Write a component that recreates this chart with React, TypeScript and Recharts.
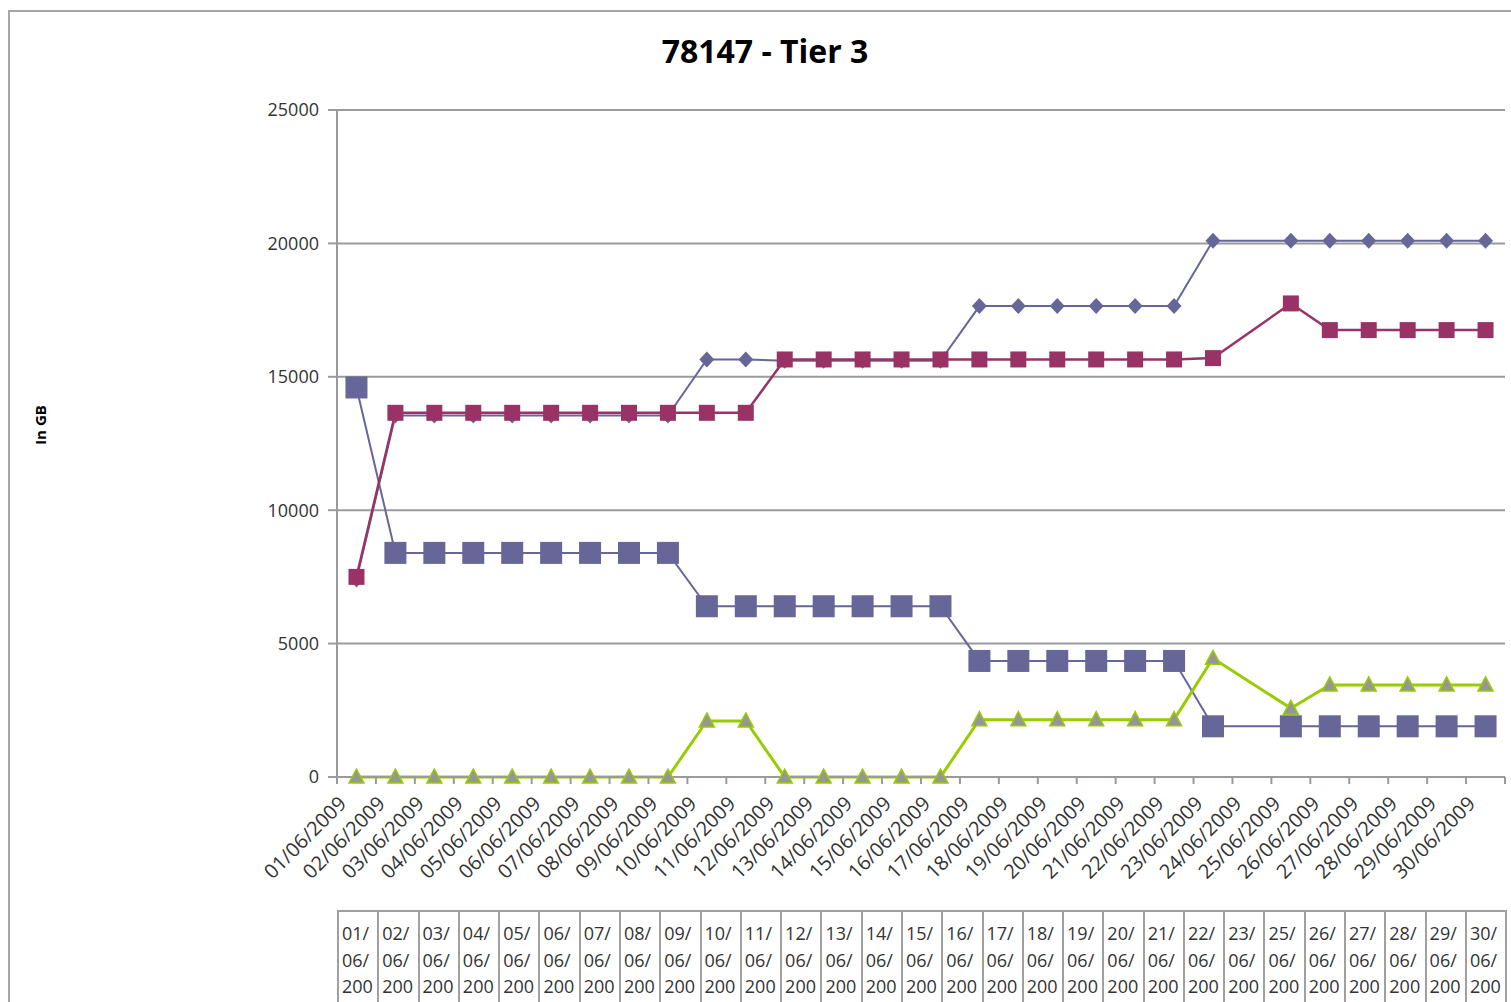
import React from "react";
import { LineChart, Line, XAxis, YAxis, CartesianGrid } from "recharts";

const dates = [
  "01/06/2009", "02/06/2009", "03/06/2009", "04/06/2009", "05/06/2009",
  "06/06/2009", "07/06/2009", "08/06/2009", "09/06/2009", "10/06/2009",
  "11/06/2009", "12/06/2009", "13/06/2009", "14/06/2009", "15/06/2009",
  "16/06/2009", "17/06/2009", "18/06/2009", "19/06/2009", "20/06/2009",
  "21/06/2009", "22/06/2009", "23/06/2009", "24/06/2009", "25/06/2009",
  "26/06/2009", "27/06/2009", "28/06/2009", "29/06/2009", "30/06/2009",
];

// small diamonds (blue)
const allocated = [
  7400, 13550, 13550, 13550, 13550, 13550, 13550, 13550, 13550, 15650,
  15650, 15600, 15600, 15600, 15600, 15600, 17650, 17650, 17650, 17650,
  17650, 17650, 20100, null, 20100, 20100, 20100, 20100, 20100, 20100,
];

// squares (magenta)
const used = [
  7500, 13650, 13650, 13650, 13650, 13650, 13650, 13650, 13650, 13650,
  13650, 15650, 15650, 15650, 15650, 15650, 15650, 15650, 15650, 15650,
  15650, 15650, 15700, null, 17750, 16750, 16750, 16750, 16750, 16750,
];

// big squares (blue)
const free = [
  14600, 8400, 8400, 8400, 8400, 8400, 8400, 8400, 8400, 6400,
  6400, 6400, 6400, 6400, 6400, 6400, 4350, 4350, 4350, 4350,
  4350, 4350, 1900, null, 1900, 1900, 1900, 1900, 1900, 1900,
];

// triangles (green line)
const growth = [
  0, 0, 0, 0, 0, 0, 0, 0, 0, 2100,
  2100, 0, 0, 0, 0, 0, 2150, 2150, 2150, 2150,
  2150, 2150, 4450, null, 2575, 3450, 3450, 3450, 3450, 3450,
];

const yTicks = [0, 5000, 10000, 15000, 20000, 25000];

const BLUE = "#666699";
const MAGENTA = "#993366";
const GREEN = "#99CC00";
const TRI_FILL = "#969696";
const AXIS = "#9a9a9a";
const FONT = "'Open Sans', sans-serif";

const PLOT_LEFT = 337;
const PLOT_RIGHT = 1505;
const PLOT_TOP = 110;
const PLOT_BOTTOM = 777;
const BAND = (PLOT_RIGHT - PLOT_LEFT) / dates.length;

const data = dates.map((date, i) => ({
  date,
  allocated: allocated[i],
  used: used[i],
  free: free[i],
  growth: growth[i],
}));

const tableDates = dates.filter((_, i) => used[i] !== null);

function diamondDot(props: any) {
  const { cx, cy, index } = props;
  if (cx == null || cy == null || props.value == null) return <g key={index} />;
  return (
    <polygon
      key={index}
      points={`${cx},${cy - 8} ${cx + 7.5},${cy} ${cx},${cy + 8} ${cx - 7.5},${cy}`}
      fill={BLUE}
    />
  );
}

function squareDot(size: number, color: string) {
  return (props: any) => {
    const { cx, cy, index } = props;
    if (cx == null || cy == null || props.value == null) return <g key={index} />;
    return <rect key={index} x={cx - size / 2} y={cy - size / 2} width={size} height={size} fill={color} />;
  };
}

function triangleDot(props: any) {
  const { cx, cy, index } = props;
  if (cx == null || cy == null || props.value == null) return <g key={index} />;
  return (
    <polygon
      key={index}
      points={`${cx},${cy - 8} ${cx + 7.5},${cy + 6} ${cx - 7.5},${cy + 6}`}
      fill={TRI_FILL}
      stroke={GREEN}
      strokeWidth={1.5}
    />
  );
}

function DateTick(props: any) {
  const { x, y, payload, index } = props;
  const last = index === dates.length - 1;
  return (
    <g>
      <line x1={x - BAND / 2} y1={y} x2={x - BAND / 2} y2={y + 7} stroke={AXIS} strokeWidth={2} />
      {last && <line x1={x + BAND / 2} y1={y} x2={x + BAND / 2} y2={y + 7} stroke={AXIS} strokeWidth={2} />}
      <text
        transform={`translate(${x - 9},${y + 28}) rotate(-45)`}
        textAnchor="end"
        fontSize={20}
        fontFamily={FONT}
        fill="#333"
      >
        {payload.value}
      </text>
    </g>
  );
}

export default function App() {
  return (
    <div
      style={{
        position: "absolute",
        left: 0,
        top: 0,
        width: 1511,
        height: 1002,
        overflow: "hidden",
        background: "#fff",
      }}
    >
      <div
        style={{
          position: "absolute",
          left: 8,
          top: 10,
          width: 1700,
          height: 1200,
          border: "2px solid #a6a6a6",
        }}
      />
      <div
        style={{
          position: "absolute",
          left: 465,
          top: 31,
          width: 600,
          textAlign: "center",
          fontFamily: FONT,
          fontWeight: 700,
          fontSize: 32,
          lineHeight: "40px",
          color: "#000",
        }}
      >
        78147 - Tier 3
      </div>
      <div
        style={{
          position: "absolute",
          left: -10,
          top: 415,
          width: 100,
          height: 20,
          lineHeight: "20px",
          textAlign: "center",
          transform: "rotate(-90deg)",
          fontFamily: FONT,
          fontWeight: 700,
          fontSize: 15,
          color: "#000",
        }}
      >
        In GB
      </div>

      <div style={{ position: "absolute", left: 0, top: 0 }}>
        <LineChart
          width={1511}
          height={1002}
          data={data}
          margin={{ top: PLOT_TOP, left: PLOT_LEFT - 60, right: 1511 - PLOT_RIGHT, bottom: 1002 - PLOT_BOTTOM - 30 }}
        >
          <CartesianGrid vertical={false} stroke={AXIS} strokeWidth={2} />
          <XAxis
            dataKey="date"
            scale="band"
            interval={0}
            height={30}
            tickSize={0}
            tickMargin={0}
            tickLine={false}
            axisLine={{ stroke: AXIS, strokeWidth: 2 }}
            tick={<DateTick />}
          />
          <YAxis
            width={60}
            domain={[0, 25000]}
            ticks={yTicks}
            tickSize={9}
            tickMargin={9}
            axisLine={{ stroke: AXIS, strokeWidth: 2 }}
            tickLine={{ stroke: AXIS, strokeWidth: 2 }}
            tick={{ fontSize: 18, fontFamily: FONT, fill: "#333" }}
          />
          <Line
            dataKey="allocated"
            name="Allocated"
            stroke={BLUE}
            strokeWidth={2}
            connectNulls
            dot={diamondDot}
            activeDot={false}
            isAnimationActive={false}
          />
          <Line
            dataKey="free"
            name="Free"
            stroke={BLUE}
            strokeWidth={2}
            connectNulls
            dot={squareDot(22, BLUE)}
            activeDot={false}
            isAnimationActive={false}
          />
          <Line
            dataKey="used"
            name="Used"
            stroke={MAGENTA}
            strokeWidth={2.5}
            connectNulls
            dot={squareDot(16, MAGENTA)}
            activeDot={false}
            isAnimationActive={false}
          />
          <Line
            dataKey="growth"
            name="Growth"
            stroke={GREEN}
            strokeWidth={3}
            connectNulls
            dot={triangleDot}
            activeDot={false}
            isAnimationActive={false}
          />
        </LineChart>
      </div>

      <div
        style={{
          position: "absolute",
          left: PLOT_LEFT,
          top: 910,
          width: PLOT_RIGHT - PLOT_LEFT,
          display: "flex",
          borderTop: "2px solid #a0a0a0",
          borderLeft: "2px solid #a0a0a0",
        }}
      >
        {tableDates.map((d) => (
          <div
            key={d}
            style={{
              flex: 1,
              minWidth: 0,
              height: 120,
              boxSizing: "border-box",
              borderRight: "2px solid #a0a0a0",
              padding: "8px 0 0 3px",
              fontFamily: FONT,
              fontSize: 18,
              lineHeight: "26.5px",
              color: "#333",
              wordBreak: "break-all",
            }}
          >
            {d}
          </div>
        ))}
      </div>
    </div>
  );
}
